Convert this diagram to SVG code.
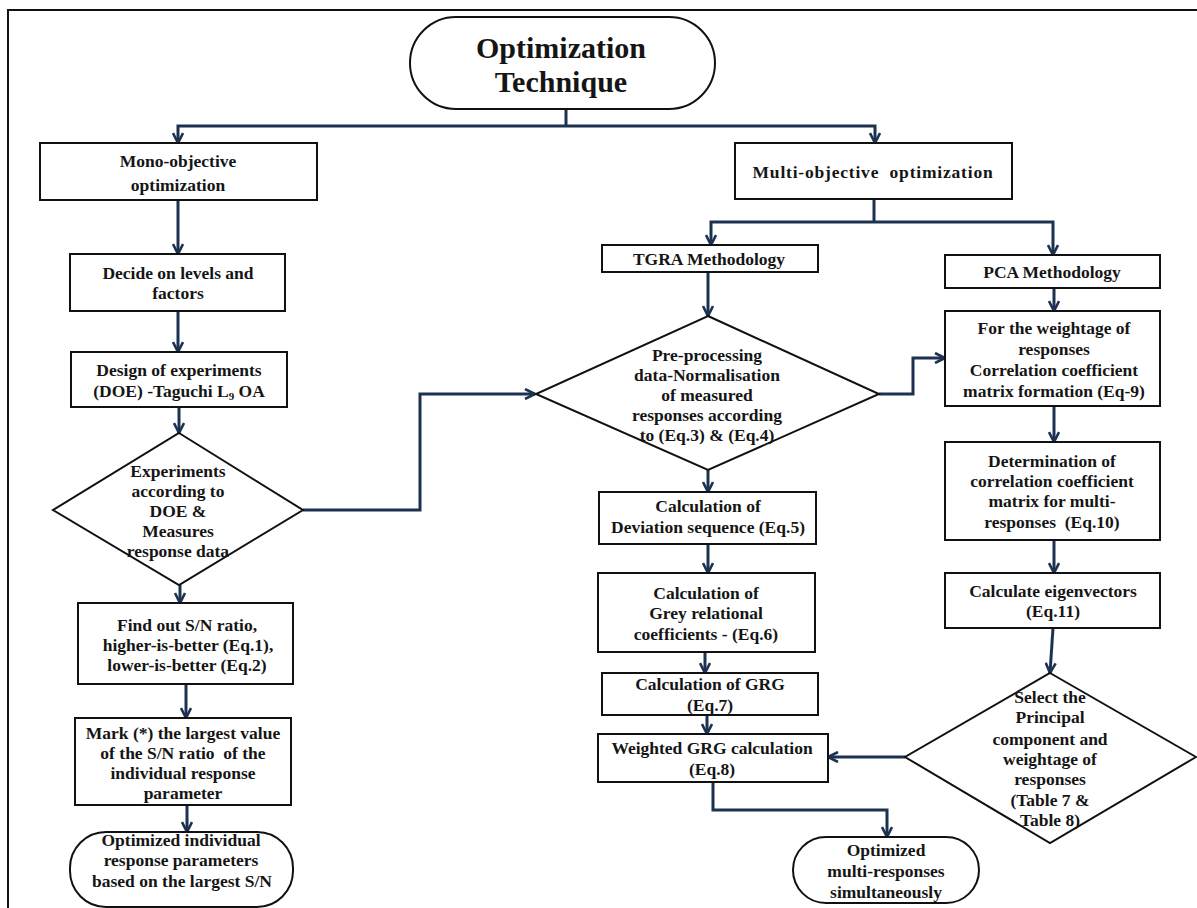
<svg xmlns="http://www.w3.org/2000/svg" width="1197" height="908" viewBox="0 0 1197 908">
<defs>
<marker id="ah" viewBox="0 0 12 12" refX="11" refY="6" markerWidth="12" markerHeight="12" markerUnits="userSpaceOnUse" orient="auto">
<path d="M1,1 L11,6 L1,11" fill="none" stroke="#1c3250" stroke-width="2.6"/>
</marker>
<style>
.box{fill:#fff;stroke:#111;stroke-width:2}
.t{font-family:"Liberation Serif","Times New Roman",serif;font-weight:bold;font-size:17.5px;fill:#151515;text-anchor:middle;white-space:pre}
.big{font-size:30px}
.c{fill:none;stroke:#1c3250;stroke-width:3}
.a{marker-end:url(#ah)}
</style>
</defs>
<rect width="1197" height="908" fill="#fff"/>
<path d="M8,908 V10 H1197" fill="none" stroke="#111" stroke-width="2"/>

<g id="connectors">
<path class="c" d="M566,109 V126"/>
<path class="c a" d="M566,126 H178 V143"/>
<path class="c a" d="M566,126 H875 V143"/>
<path class="c a" d="M178,200 V254"/>
<path class="c a" d="M178,311 V352"/>
<path class="c a" d="M179,407 V433"/>
<path class="c a" d="M180,585 V603"/>
<path class="c a" d="M186,684 V718"/>
<path class="c a" d="M187,805 V832"/>
<path class="c a" d="M303,510 H420 V394 H535"/>
<path class="c" d="M874,199 V222"/>
<path class="c a" d="M874,222 H711 V245"/>
<path class="c a" d="M874,222 H1053 V255"/>
<path class="c a" d="M708,272 V316"/>
<path class="c a" d="M708,470 V492"/>
<path class="c a" d="M879,394 H913 V358 H945"/>
<path class="c a" d="M1054,288 V311"/>
<path class="c a" d="M1054,406 V442"/>
<path class="c a" d="M1054,540 V573"/>
<path class="c a" d="M1053,628 L1050,673"/>
<path class="c a" d="M708,544 V573"/>
<path class="c a" d="M705,635 V673"/>
<path class="c a" d="M707,712 V734"/>
<path class="c a" d="M905,757 H828"/>
<path class="c a" d="M713,782 V810 H887 V837"/>
</g>

<g id="start">
<rect class="box" x="410" y="17" width="305" height="92" rx="46" ry="46"/>
<text class="t big" x="561" y="58">Optimization</text>
<text class="t big" x="561" y="92">Technique</text>
</g>

<g id="mono">
<rect class="box" x="40" y="143" width="277" height="57"/>
<text class="t" x="178" y="167">Mono-objective</text>
<text class="t" x="178" y="191">optimization</text>
</g>

<g id="decide">
<rect class="box" x="70" y="254" width="215" height="57"/>
<text class="t" x="178" y="279">Decide on levels and</text>
<text class="t" x="178" y="299">factors</text>
</g>

<g id="design">
<rect class="box" x="71" y="352" width="216" height="55"/>
<text class="t" x="179" y="376">Design of experiments</text>
<text class="t" x="179" y="397">(DOE) -Taguchi L<tspan font-size="11" dy="3">9</tspan><tspan dy="-3"> OA</tspan></text>
</g>

<g id="experiments">
<polygon class="box" points="179,433 303,510 179,585 53,510"/>
<text class="t" x="178" y="477">Experiments</text>
<text class="t" x="178" y="497">according to</text>
<text class="t" x="178" y="517">DOE &amp;</text>
<text class="t" x="178" y="537">Measures</text>
<text class="t" x="178" y="557">response data</text>
</g>

<g id="findsn">
<rect class="box" x="78" y="603" width="215" height="81"/>
<text class="t" x="187" y="631">Find out S/N ratio,</text>
<text class="t" x="188" y="651">higher-is-better (Eq.1),</text>
<text class="t" x="187" y="671">lower-is-better (Eq.2)</text>
</g>

<g id="mark">
<rect class="box" x="75" y="718" width="216" height="87"/>
<text class="t" x="183" y="739">Mark (*) the largest value</text>
<text class="t" x="183" y="759">of the S/N ratio  of the</text>
<text class="t" x="183" y="779">individual response</text>
<text class="t" x="183" y="799">parameter</text>
</g>

<g id="optind">
<rect class="box" x="70" y="832" width="223" height="75" rx="36" ry="36"/>
<text class="t" x="181" y="846">Optimized individual</text>
<text class="t" x="181" y="866">response parameters</text>
<text class="t" x="182" y="887">based on the largest S/N</text>
</g>

<g id="multi">
<rect class="box" x="735" y="143" width="277" height="56"/>
<text class="t" x="873" y="178" letter-spacing="0.8">Multi-objective  optimization</text>
</g>

<g id="tgra">
<rect class="box" x="602" y="245" width="216" height="27"/>
<text class="t" x="709" y="265">TGRA Methodology</text>
</g>

<g id="preprocess">
<polygon class="box" points="708,316 879,394 708,470 536,394"/>
<text class="t" x="707" y="361">Pre-processing</text>
<text class="t" x="707" y="381">data-Normalisation</text>
<text class="t" x="707" y="401">of measured</text>
<text class="t" x="707" y="421">responses according</text>
<text class="t" x="707" y="441">to (Eq.3) &amp; (Eq.4)</text>
</g>

<g id="deviation">
<rect class="box" x="599" y="492" width="217" height="52"/>
<text class="t" x="708" y="512">Calculation of</text>
<text class="t" x="708" y="533">Deviation sequence (Eq.5)</text>
</g>

<g id="grey">
<rect class="box" x="598" y="573" width="217" height="79"/>
<text class="t" x="706" y="599">Calculation of</text>
<text class="t" x="706" y="619">Grey relational</text>
<text class="t" x="706" y="640">coefficients - (Eq.6)</text>
</g>

<g id="grg">
<rect class="box" x="602" y="673" width="216" height="42"/>
<text class="t" x="710" y="690">Calculation of GRG</text>
<text class="t" x="710" y="711">(Eq.7)</text>
</g>

<g id="weighted">
<rect class="box" x="598" y="734" width="230" height="48"/>
<text class="t" x="712" y="754">Weighted GRG calculation</text>
<text class="t" x="712" y="775">(Eq.8)</text>
</g>

<g id="optmulti">
<rect class="box" x="793" y="837" width="186" height="66" rx="33" ry="33"/>
<text class="t" x="886" y="856">Optimized</text>
<text class="t" x="886" y="877">multi-responses</text>
<text class="t" x="886" y="898">simultaneously</text>
</g>

<g id="pca">
<rect class="box" x="945" y="255" width="215" height="33"/>
<text class="t" x="1052" y="278">PCA Methodology</text>
</g>

<g id="weightage">
<rect class="box" x="945" y="311" width="215" height="95"/>
<text class="t" x="1054" y="334">For the weightage of</text>
<text class="t" x="1054" y="355">responses</text>
<text class="t" x="1054" y="376">Correlation coefficient</text>
<text class="t" x="1054" y="397">matrix formation (Eq-9)</text>
</g>

<g id="determination">
<rect class="box" x="945" y="442" width="215" height="98"/>
<text class="t" x="1052" y="467">Determination of</text>
<text class="t" x="1052" y="487">correlation coefficient</text>
<text class="t" x="1052" y="507">matrix for multi-</text>
<text class="t" x="1052" y="528">responses  (Eq.10)</text>
</g>

<g id="eigen">
<rect class="box" x="945" y="573" width="215" height="55"/>
<text class="t" x="1053" y="597">Calculate eigenvectors</text>
<text class="t" x="1053" y="617">(Eq.11)</text>
</g>

<g id="select">
<polygon class="box" points="1050,673 1196,757 1050,843 905,757"/>
<text class="t" x="1050" y="703">Select the</text>
<text class="t" x="1050" y="723">Principal</text>
<text class="t" x="1050" y="745">component and</text>
<text class="t" x="1050" y="765">weightage of</text>
<text class="t" x="1050" y="785">responses</text>
<text class="t" x="1050" y="806">(Table 7 &amp;</text>
<text class="t" x="1050" y="826">Table 8)</text>
</g>
</svg>
